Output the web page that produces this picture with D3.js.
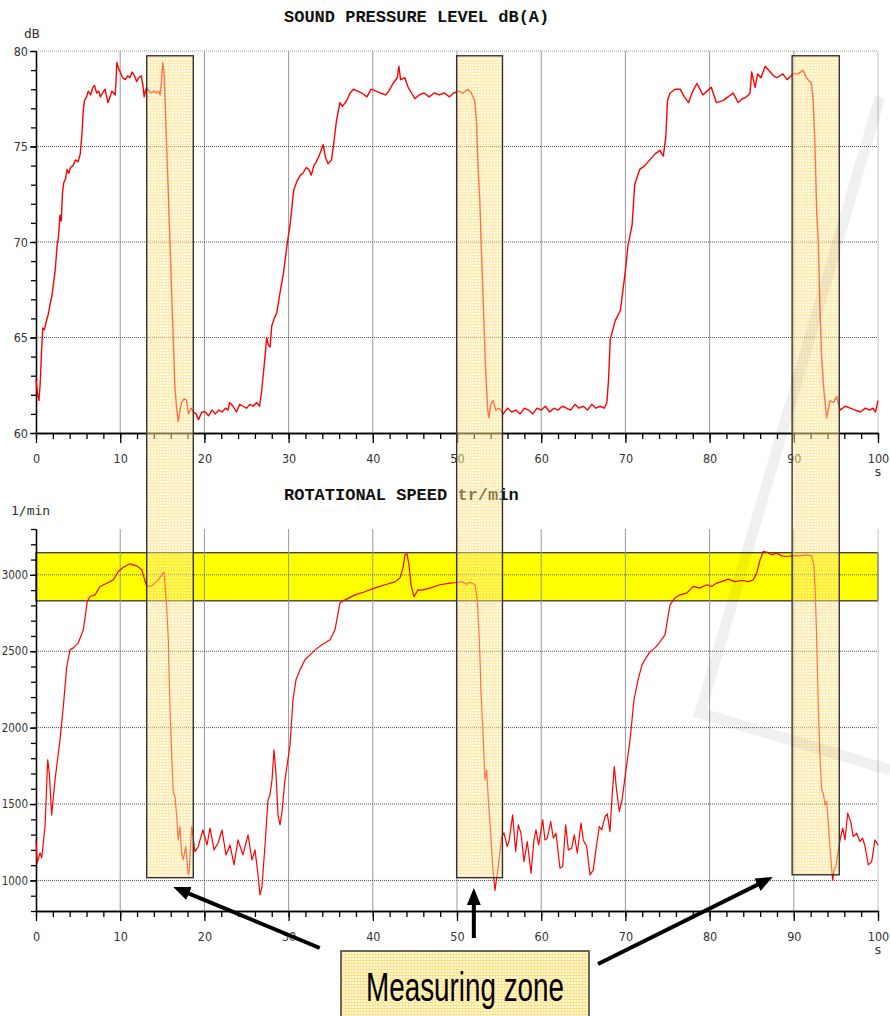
<!DOCTYPE html>
<html lang="en">
<head>
	<meta charset="utf-8">
	<title>Sound pressure level and rotational speed</title>
	<script src="https://d3js.org/d3.v7.min.js"></script>
	<style type="text/css">
		body {
			margin: 0;
			background-color: #fff;
		}
		svg {
			display: block;
		}
		.tick text {
			font-family: "DejaVu Sans Condensed", "Liberation Sans Narrow", sans-serif;
			font-size: 12.5px;
			fill: #333;
		}
		.rpm .tick text {
			font-size: 11.5px;
		}
		.title {
			font-family: "Liberation Mono", "DejaVu Sans Mono", monospace;
			font-weight: bold;
			font-size: 17px;
			fill: #111;
		}
		.unit {
			font-family: "DejaVu Sans Mono", monospace;
			font-size: 13px;
			fill: #333;
		}
	</style>
</head>
<body>
	<script type="text/javascript">

		//Width and height
		var w = 890;
		var h = 1016;

		//Sound pressure level, [time s, dB(A)]
		var splData = [
			[0,62.8],[0.2,62.0],[0.35,61.7],[0.5,62.6],[0.65,64.2],[0.8,65.5],[1.0,65.4],[1.2,65.8],[1.45,66.2],[1.7,66.8],
			[1.9,67.2],[2.1,67.9],[2.3,68.6],[2.5,69.8],[2.65,70.2],[2.85,71.4],[3.0,71.1],[3.15,72.6],[3.3,73.1],[3.5,73.3],
			[3.7,73.8],[3.9,73.6],[4.1,73.9],[4.4,74.0],[4.7,74.3],[5.0,74.2],[5.25,74.6],[5.45,75.6],[5.6,76.8],[5.75,77.4],
			[6.0,77.6],[6.2,77.9],[6.5,77.7],[6.75,78.1],[6.95,78.2],[7.2,77.8],[7.45,77.9],[7.65,77.6],[7.9,77.8],[8.2,78.0],
			[8.4,77.6],[8.55,77.3],[8.8,77.6],[9.0,77.9],[9.2,77.8],[9.4,77.7],[9.5,78.4],[9.6,79.4],[9.8,79.1],[10.0,78.9],
			[10.3,78.6],[10.6,78.5],[10.9,78.7],[11.15,78.6],[11.4,78.9],[11.7,78.7],[11.95,78.4],[12.2,78.6],[12.5,78.7],[12.7,78.2],
			[12.85,77.6],[13.0,77.9],[13.15,78.1],[13.4,77.9],[13.7,77.8],[14.0,77.9],[14.3,77.8],[14.55,77.9],[14.75,77.7],[14.9,78.4],
			[15.05,79.4],[15.2,78.9],[15.35,77.2],[15.5,75.3],[15.9,70.1],[16.3,64.9],[16.5,62.4],[16.7,61.3],[16.9,60.6],[17.1,61.2],
			[17.3,61.6],[17.6,61.8],[17.9,61.7],[18.1,61.0],[18.4,61.3],[18.7,61.1],[19.0,61.0],[19.3,60.7],[19.7,61.1],[20.1,61.1],
			[20.5,60.9],[20.9,61.2],[21.3,61.0],[21.7,61.2],[22.1,61.1],[22.5,61.3],[22.8,61.2],[23.0,61.6],[23.4,61.4],[23.8,61.1],
			[24.2,61.5],[24.6,61.4],[25.0,61.3],[25.4,61.5],[25.8,61.4],[26.2,61.6],[26.55,61.4],[26.8,62.2],[27.0,63.1],[27.2,64.0],
			[27.4,65.0],[27.6,64.6],[27.8,64.5],[28.0,65.6],[28.3,66.0],[28.6,66.3],[29.0,67.4],[29.4,68.4],[29.8,69.8],[30.2,71.0],
			[30.6,72.7],[31.0,73.2],[31.4,73.5],[31.7,73.6],[32.1,73.9],[32.4,73.8],[32.7,73.5],[33.0,74.0],[33.3,74.2],[33.7,74.6],
			[34.1,75.1],[34.4,74.4],[34.7,74.1],[35.1,74.3],[35.4,75.3],[35.7,76.4],[36.1,77.3],[36.4,77.1],[36.9,77.4],[37.3,77.8],
			[37.7,78.0],[38.2,77.9],[38.7,77.8],[39.3,77.6],[39.8,78.0],[40.4,77.9],[40.9,77.8],[41.5,77.7],[41.9,77.9],[42.4,78.3],
			[42.9,78.6],[43.1,79.2],[43.3,78.5],[43.8,78.6],[44.2,78.1],[44.6,77.8],[45.0,77.5],[45.5,77.7],[46.1,77.8],[46.7,77.6],
			[47.3,77.8],[47.9,77.7],[48.5,77.8],[49.1,77.6],[49.6,77.8],[50.2,77.9],[50.7,77.8],[51.3,78.0],[51.7,77.8],[52.1,77.4],
			[52.3,76.4],[52.5,74.0],[52.7,72.2],[53.1,67.0],[53.4,63.3],[53.65,61.2],[53.8,60.8],[54.0,61.5],[54.3,61.7],[54.6,61.2],
			[55.0,61.3],[55.5,61.0],[56.0,61.3],[56.5,61.1],[57.0,61.2],[57.5,61.0],[58.0,61.3],[58.5,61.2],[59.0,61.0],[59.5,61.3],
			[60.0,61.2],[60.5,61.4],[61.0,61.1],[61.5,61.3],[62.0,61.2],[62.5,61.4],[63.0,61.3],[63.5,61.2],[64.0,61.5],[64.5,61.3],
			[65.0,61.4],[65.5,61.2],[66.0,61.5],[66.5,61.3],[67.0,61.4],[67.5,61.3],[67.8,61.6],[68.0,62.8],[68.2,64.9],[68.5,65.4],
			[68.8,65.9],[69.4,66.4],[70.0,68.5],[70.3,69.8],[70.8,70.9],[71.1,73.0],[71.7,73.8],[72.3,74.0],[72.9,74.3],[73.5,74.6],
			[74.1,74.8],[74.5,74.5],[74.8,75.5],[75.0,77.4],[75.3,77.8],[75.9,78.0],[76.5,78.0],[77.0,77.6],[77.5,77.3],[78.0,77.9],
			[78.5,78.3],[79.2,77.7],[79.7,77.9],[80.2,78.1],[80.8,77.3],[81.6,77.4],[82.2,77.6],[82.8,77.8],[83.4,77.3],[83.9,77.5],
			[84.4,77.6],[84.8,77.8],[85.0,78.9],[85.4,78.1],[85.7,78.8],[86.1,78.6],[86.6,79.2],[87.2,78.9],[87.6,78.7],[88.0,78.6],
			[88.7,78.8],[89.2,78.5],[89.9,78.8],[90.5,78.8],[91.1,79.0],[91.5,78.6],[92.1,78.3],[92.3,77.4],[92.5,75.3],[92.7,71.8],
			[92.9,70.1],[93.1,66.6],[93.3,64.0],[93.6,62.1],[93.9,60.8],[94.3,61.7],[94.7,61.6],[95.1,61.9],[95.5,61.2],[96.1,61.4],
			[96.7,61.3],[97.3,61.2],[97.9,61.1],[98.5,61.3],[99.0,61.2],[99.4,61.3],[99.7,61.1],[100,61.7]
		];

		//Rotational speed, [time s, 1/min]
		var rpmData = [
			[0,1265],[0.15,1115],[0.48,1180],[0.68,1148],[1.07,1351],[1.39,1789],[1.58,1704],[1.86,1429],[2.26,1658],[2.85,1920],
			[3.24,2136],[3.65,2398],[4.04,2509],[4.43,2522],[5.02,2555],[5.62,2640],[6.09,2825],[6.41,2858],[7.01,2869],[7.6,2924],
			[8.4,2945],[9.18,2967],[9.77,3022],[10.37,3050],[11.16,3072],[11.96,3059],[12.55,3033],[13.15,2924],[13.74,2928],[14.52,2967],
			[15.2,3018],[15.52,2793],[15.71,2575],[15.91,2138],[16.12,1811],[16.31,1571],[16.51,1549],[16.71,1418],[16.9,1265],[17.1,1353],
			[17.3,1178],[17.49,1135],[17.78,1222],[18.09,1036],[18.21,1069],[18.49,1353],[18.88,1189],[19.28,1222],[19.48,1265],[19.83,1330],
			[20.31,1232],[20.67,1343],[21.14,1200],[21.62,1245],[22.09,1330],[22.57,1167],[23.04,1232],[23.52,1102],[23.99,1265],[24.58,1167],
			[25.18,1298],[25.65,1135],[26.01,1200],[26.37,1036],[26.6,905],[26.84,960],[27.08,1140],[27.32,1330],[27.55,1527],[27.79,1560],
			[28.03,1658],[28.27,1855],[28.5,1700],[28.74,1429],[28.98,1364],[29.22,1450],[29.57,1658],[30.17,1887],[30.52,2182],[30.88,2313],
			[31.35,2378],[31.95,2444],[32.54,2476],[33.14,2509],[33.97,2542],[34.92,2575],[35.51,2640],[36.1,2817],[36.7,2836],[37.89,2869],
			[39.07,2889],[40.26,2915],[41.45,2935],[42.64,2954],[43.23,2980],[43.59,3046],[43.82,3131],[44.06,3137],[44.3,3065],[44.54,2935],
			[44.89,2856],[45.37,2902],[45.84,2900],[46.79,2913],[47.98,2935],[49.17,2946],[49.96,2950],[50.56,2956],[51.15,2939],[51.54,2952],
			[52.14,2935],[52.41,2836],[52.65,2575],[52.85,2247],[53.12,1920],[53.33,1658],[53.53,1724],[53.72,1527],[54.0,1309],[54.24,1091],
			[54.51,934],[54.79,1049],[55.02,1146],[55.31,1287],[55.58,1311],[55.97,1222],[56.21,1265],[56.61,1429],[56.97,1189],[57.28,1364],
			[57.6,1309],[57.96,1123],[58.35,1255],[58.79,1048],[59.14,1265],[59.38,1331],[59.7,1233],[60.18,1396],[60.45,1265],[60.72,1277],
			[61.13,1385],[61.44,1277],[61.76,1309],[62.23,1080],[62.55,1091],[62.91,1364],[63.22,1200],[63.62,1211],[63.93,1298],[64.29,1178],
			[64.73,1375],[65.0,1265],[65.4,1222],[65.8,1036],[66.19,1069],[66.47,1189],[66.9,1353],[67.19,1331],[67.58,1418],[67.85,1436],
			[68.17,1320],[68.44,1571],[68.68,1745],[68.97,1582],[69.28,1451],[69.6,1527],[70.07,1724],[70.55,1920],[71.02,2182],[71.5,2313],
			[71.97,2411],[72.45,2457],[72.92,2496],[73.52,2522],[74.11,2562],[74.7,2607],[75.3,2804],[75.89,2849],[76.48,2869],[77.28,2880],
			[78.06,2924],[78.86,2913],[79.66,2935],[80.25,2924],[80.84,2946],[81.44,2956],[82.22,2972],[83.02,2956],[83.81,2963],[84.6,2956],
			[85.19,2967],[85.59,3011],[85.99,3098],[86.38,3153],[86.85,3148],[87.38,3131],[87.97,3142],[88.56,3124],[89.16,3120],[89.94,3126],
			[90.74,3124],[91.53,3131],[92.12,3124],[92.4,3055],[92.55,2880],[92.72,2575],[92.91,2138],[93.11,1811],[93.31,1593],[93.5,1571],
			[93.71,1495],[93.91,1516],[94.18,1309],[94.38,1156],[94.62,1000],[94.77,1069],[95.01,1091],[95.17,1156],[95.49,1265],[95.81,1342],
			[96.08,1265],[96.4,1440],[96.76,1385],[97.06,1287],[97.47,1309],[97.86,1255],[98.18,1277],[98.46,1222],[98.85,1102],[99.25,1123],
			[99.64,1265],[100,1233]
		];

		//Measuring zones (s), top in dB(A), bottom in 1/min
		var zoneStart = [13.15, 49.96, 89.8];
		var zoneEnd = [18.68, 55.4, 95.4];
		var zoneTop = 79.75;
		var zoneLow = [1018, 1018, 1037];

		//Target speed band, 1/min
		var bandLow = 2830;
		var bandHigh = 3145;

		//Tick labels
		var timeTicks = [0, 10, 20, 30, 40, 50, 60, 70, 80, 90, 100];
		var splTicks = [60, 65, 70, 75, 80];
		var rpmTicks = [1000, 1500, 2000, 2500, 3000];

		//Callout arrows, [time s, 1/min]
		var arrowFrom = [[33.7, 558], [52.0, 623], [66.75, 453]];
		var arrowTo = [[16.3, 957], [52.0, 950], [87.5, 1022]];

		//Scales
		var x = d3.scaleLinear().domain([0, 100]).range([36, 878]);
		var ySpl = d3.scaleLinear().domain([60, 80]).range([433, 51]);
		var yRpm = d3.scaleLinear().domain([800, 3300]).range([911, 529]);

		var svg = d3.select("body")
					.append("svg")
					.attr("width", w)
					.attr("height", h);

		var defs = svg.append("defs");

		//Fine yellow grid used for the zones
		var pat = defs.append("pattern")
			.attr("id", "hatch")
			.attr("patternUnits", "userSpaceOnUse")
			.attr("width", 3)
			.attr("height", 3);
		pat.append("rect").attr("width", 3).attr("height", 3).attr("fill", "#fff6cc");
		pat.append("rect").attr("width", 3).attr("height", 1).attr("fill", "#ffd24d");
		pat.append("rect").attr("width", 1).attr("height", 3).attr("fill", "#ffdc70");

		defs.append("marker")
			.attr("id", "head")
			.attr("markerUnits", "userSpaceOnUse")
			.attr("viewBox", "0 0 17 14")
			.attr("markerWidth", 17)
			.attr("markerHeight", 14)
			.attr("refX", 9)
			.attr("refY", 7)
			.attr("orient", "auto")
			.append("path")
			.attr("d", "M0,0L17,7L0,14Z")
			.attr("fill", "#000");

		//Yellow speed band
		svg.append("rect")
			.attr("x", x(0))
			.attr("y", yRpm(bandHigh))
			.attr("width", x(100) - x(0))
			.attr("height", yRpm(bandLow) - yRpm(bandHigh))
			.attr("fill", "#ffff00")
			.attr("stroke", "#444")
			.attr("stroke-width", 1.4);

		//Grid lines
		function grid(yScale, yTop, levels, topBorder) {
			var g = svg.append("g");
			g.selectAll("line.v")
				.data(timeTicks.slice(1))
				.enter()
				.append("line")
				.attr("x1", function(d) { return x(d); })
				.attr("x2", function(d) { return x(d); })
				.attr("y1", yTop)
				.attr("y2", yScale.range()[0])
				.attr("stroke", function(d) { return d == 100 ? "#c4c4c4" : "#999"; })
				.attr("stroke-width", 1);
			g.selectAll("line.h")
				.data(levels)
				.enter()
				.append("line")
				.attr("x1", x(0))
				.attr("x2", x(100))
				.attr("y1", function(d) { return yScale(d); })
				.attr("y2", function(d) { return yScale(d); })
				.attr("stroke", function(d) { return d == topBorder ? "#999" : "#555"; })
				.attr("stroke-dasharray", "1,1")
				.attr("stroke-width", 1);
		}
		grid(ySpl, ySpl(80), splTicks.slice(1), 80);
		grid(yRpm, yRpm(3300), rpmTicks, null);

		//Axes
		function drawAxes(yScale, major, minor, cls) {
			var base = yScale.range()[0];
			var g = svg.append("g").attr("class", cls);
			g.append("g")
				.attr("transform", "translate(0," + base + ")")
				.call(d3.axisBottom(x).tickValues(d3.range(0, 101, 2)).tickSize(6).tickFormat("").tickSizeOuter(0));
			g.append("g")
				.attr("transform", "translate(0," + base + ")")
				.call(d3.axisBottom(x).tickValues(timeTicks).tickSize(10).tickPadding(11).tickSizeOuter(0));
			g.append("g")
				.attr("transform", "translate(" + x(0) + ",0)")
				.call(d3.axisLeft(yScale).tickValues(minor).tickSize(5).tickFormat("").tickSizeOuter(0));
			g.append("g")
				.attr("class", cls == "rpmAxes" ? "rpm" : "spl")
				.attr("transform", "translate(" + x(0) + ",0)")
				.call(d3.axisLeft(yScale).tickValues(major).tickSize(6).tickPadding(2).tickFormat(d3.format("d")).tickSizeOuter(0));
		}
		drawAxes(ySpl, splTicks, d3.range(60, 81, 1), "splAxes");
		drawAxes(yRpm, rpmTicks, d3.range(800, 3301, 100), "rpmAxes");

		svg.selectAll(".domain, .tick line")
			.attr("stroke", "#000")
			.attr("stroke-width", 1.3);
		svg.selectAll(".tick text").attr("font-family", null).attr("font-size", null);

		//Titles and units
		svg.append("text").attr("class", "title").attr("x", 284).attr("y", 22).text("SOUND PRESSURE LEVEL dB(A)");
		svg.append("text").attr("class", "title").attr("x", 284).attr("y", 500).text("ROTATIONAL SPEED tr/min");
		svg.append("text").attr("class", "unit").attr("x", 24).attr("y", 38).text("dB");
		svg.append("text").attr("class", "unit").attr("x", 11).attr("y", 515).text("1/min");
		svg.append("text").attr("class", "unit").attr("x", x(100)).attr("y", 476).attr("text-anchor", "middle").text("s");
		svg.append("text").attr("class", "unit").attr("x", x(100)).attr("y", 954).attr("text-anchor", "middle").text("s");

		//Measured curves
		var splLine = d3.line()
			.x(function(d) { return x(d[0]); })
			.y(function(d) { return ySpl(d[1]); });
		var rpmLine = d3.line()
			.x(function(d) { return x(d[0]); })
			.y(function(d) { return yRpm(d[1]); });

		svg.append("path")
			.datum(splData)
			.attr("d", splLine)
			.attr("fill", "none")
			.attr("stroke", "#ff0000")
			.attr("stroke-width", 1.4)
			.attr("stroke-linejoin", "round");
		svg.append("path")
			.datum(rpmData)
			.attr("d", rpmLine)
			.attr("fill", "none")
			.attr("stroke", "#ff0000")
			.attr("stroke-width", 1.2)
			.attr("stroke-linejoin", "round");

		//Measuring zones
		svg.selectAll("rect.zone")
			.data(zoneStart)
			.enter()
			.append("rect")
			.attr("class", "zone")
			.attr("x", function(d) { return x(d); })
			.attr("y", ySpl(zoneTop))
			.attr("width", function(d, i) { return x(zoneEnd[i]) - x(d); })
			.attr("height", function(d, i) { return yRpm(zoneLow[i]) - ySpl(zoneTop); })
			.attr("fill", "url(#hatch)")
			.attr("fill-opacity", 0.5)
			.attr("stroke", "#333")
			.attr("stroke-width", 1.4);

		//Faint watermark stroke
		svg.append("path")
			.attr("d", "M880,97L700,713L890,770")
			.attr("fill", "none")
			.attr("stroke", "#000")
			.attr("stroke-opacity", 0.06)
			.attr("stroke-width", 11);

		//Callout arrows
		arrowFrom.forEach(function(p, i) {
			var x1 = x(p[0]), y1 = yRpm(p[1]);
			var x2 = x(arrowTo[i][0]), y2 = yRpm(arrowTo[i][1]);
			var len = Math.sqrt((x2 - x1) * (x2 - x1) + (y2 - y1) * (y2 - y1));
			var k = (len - 8) / len;
			svg.append("line")
				.attr("x1", x1)
				.attr("y1", y1)
				.attr("x2", x1 + (x2 - x1) * k)
				.attr("y2", y1 + (y2 - y1) * k)
				.attr("stroke", "#000")
				.attr("stroke-width", 4)
				.attr("marker-end", "url(#head)");
		});

		//Callout box
		svg.append("rect")
			.attr("x", 341)
			.attr("y", 951)
			.attr("width", 248)
			.attr("height", 80)
			.attr("fill", "url(#hatch)")
			.attr("fill-opacity", 0.75)
			.attr("stroke", "#444")
			.attr("stroke-width", 1.6);
		svg.append("text")
			.attr("x", 366)
			.attr("y", 1001)
			.attr("textLength", 198)
			.attr("lengthAdjust", "spacingAndGlyphs")
			.style("font-family", "'Liberation Sans Narrow', 'Liberation Sans', Arial, sans-serif")
			.style("font-size", "40px")
			.style("fill", "#000")
			.text("Measuring zone");

	</script>
</body>
</html>
